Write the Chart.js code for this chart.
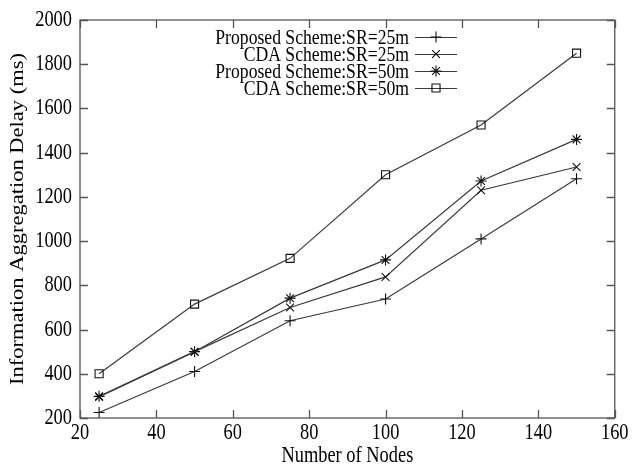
<!DOCTYPE html>
<html>
<head>
<meta charset="utf-8">
<script src="https://cdn.jsdelivr.net/npm/chart.js@4/dist/chart.umd.min.js"></script>
<style>
  html, body { margin: 0; padding: 0; background: #fff; }
  canvas { display: block; }
</style>
</head>
<body>
<canvas id="delay_chart" width="635" height="467"></canvas>
<script>
// values
var nodes = [25, 50, 75, 100, 125, 150];
var proposed25 = [225, 410, 640, 738, 1010, 1282];
var cda25 = [295, 500, 700, 838, 1230, 1335];
var proposed50 = [298, 500, 742, 915, 1272, 1460];
var cda50 = [400, 715, 922, 1300, 1525, 1850];

var seriesNames = [
  "Proposed Scheme:SR=25m",
  "CDA Scheme:SR=25m",
  "Proposed Scheme:SR=50m",
  "CDA Scheme:SR=50m",
];
var seriesValues = [proposed25, cda25, proposed50, cda50];
var markers = ["cross", "crossRot", "star", "rect"];

var lineColor = "#3a3a3a";
var serif = "'Liberation Serif', 'Times New Roman', serif";

// the original figure has tall, narrow lettering; squeeze text sideways
var canvasElement = document.getElementById("delay_chart");
var ctx0 = canvasElement.getContext("2d");
var squeeze = 0.8;
var baseFill = CanvasRenderingContext2D.prototype.fillText;
ctx0.fillText = function (text, x, y, maxWidth) {
  var m = ctx0.getTransform();
  var p = m.transformPoint(new DOMPoint(x, y));
  ctx0.save();
  ctx0.setTransform(
    new DOMMatrix().translate(p.x, p.y).scale(squeeze, 1).translate(-p.x, -p.y).multiply(m)
  );
  if (maxWidth === undefined) {
    baseFill.call(ctx0, text, x, y);
  } else {
    baseFill.call(ctx0, text, x, y, maxWidth);
  }
  ctx0.restore();
};

function toPoints(vals) {
  return nodes.map(function (n, i) {
    return { x: n, y: vals[i] };
  });
}

var datasets = seriesNames.map(function (name, i) {
  return {
    label: name,
    data: toPoints(seriesValues[i]),
    borderColor: lineColor,
    borderWidth: 1.2,
    pointStyle: markers[i],
    pointRadius: markers[i] == "rect" ? 5.7 : 5.5,
    pointBorderColor: "#111",
    pointBackgroundColor: "rgba(0,0,0,0)",
    pointBorderWidth: 1.1,
    fill: false,
    tension: 0,
  };
});

// gnuplot style frame: box with inward ticks on all four sides
var framePlugin = {
  id: "frame",
  afterDraw: function (chart) {
    var ctx = chart.ctx;
    var a = chart.chartArea;
    var xs = chart.scales.x;
    var ys = chart.scales.y;
    ctx.save();
    ctx.strokeStyle = "#555";
    ctx.lineWidth = 1.3;
    ctx.strokeRect(a.left, a.top, a.right - a.left, a.bottom - a.top);
    ctx.beginPath();
    xs.ticks.forEach(function (t) {
      var px = Math.round(xs.getPixelForValue(t.value)) + 0.5;
      ctx.moveTo(px, a.bottom);
      ctx.lineTo(px, a.bottom - 8);
      ctx.moveTo(px, a.top);
      ctx.lineTo(px, a.top + 8);
    });
    ys.ticks.forEach(function (t) {
      var py = Math.round(ys.getPixelForValue(t.value)) + 0.5;
      ctx.moveTo(a.left, py);
      ctx.lineTo(a.left + 8, py);
      ctx.moveTo(a.right, py);
      ctx.lineTo(a.right - 8, py);
    });
    ctx.stroke();
    ctx.restore();
  },
};

// key at the top, text right aligned, sample line on the right
var keyPlugin = {
  id: "key",
  afterDatasetsDraw: function (chart) {
    var ctx = chart.ctx;
    ctx.save();
    squeeze = 0.84;
    ctx.font = "21px " + serif;
    ctx.textAlign = "right";
    ctx.textBaseline = "middle";
    chart.data.datasets.forEach(function (ds, i) {
      var y = 37 + i * 17;
      ctx.fillStyle = "#000";
      ctx.fillText(ds.label, 409, y + 1);
      ctx.strokeStyle = lineColor;
      ctx.lineWidth = 1.2;
      ctx.beginPath();
      ctx.moveTo(415, y + 0.5);
      ctx.lineTo(457, y + 0.5);
      ctx.stroke();
      ctx.strokeStyle = "#111";
      ctx.fillStyle = "rgba(0,0,0,0)";
      ctx.lineWidth = 1.1;
      Chart.helpers.drawPoint(ctx, {
        pointStyle: ds.pointStyle,
        radius: ds.pointRadius,
        borderWidth: 1.1,
        rotation: 0,
      }, 436, y);
    });
    squeeze = 0.8;
    ctx.restore();
  },
};

var tickFont = { family: serif, size: 23, lineHeight: 1 };

var config = {
  type: "line",
  data: { datasets: datasets },
  options: {
    responsive: false,
    animation: false,
    layout: { padding: { top: 20, right: 16, left: 0, bottom: 0 } },
    plugins: {
      legend: { display: false },
      tooltip: { enabled: false },
    },
    scales: {
      x: {
        type: "linear",
        min: 20,
        max: 160,
        grid: { display: false, drawTicks: false },
        border: { display: false },
        ticks: {
          stepSize: 20,
          color: "#000",
          padding: 3,
          maxRotation: 0,
          autoSkip: false,
          font: tickFont,
          callback: function (v) { return String(v); },
        },
        title: {
          display: true,
          text: "Number of Nodes",
          color: "#000",
          padding: { top: 0, bottom: 0 },
          font: tickFont,
        },
        afterFit: function (scale) {
          scale.height = 49;
        },
      },
      y: {
        min: 200,
        max: 2000,
        grid: { display: false, drawTicks: false },
        border: { display: false },
        ticks: {
          stepSize: 200,
          color: "#000",
          padding: 8,
          autoSkip: false,
          font: tickFont,
          callback: function (v) { return String(v); },
        },
        title: {
          display: true,
          text: "Information Aggregation Delay (ms)",
          color: "#000",
          padding: { top: 7, bottom: 0 },
          font: { family: serif, size: 22.5, lineHeight: 1 },
        },
        afterFit: function (scale) {
          scale.width = 80;
        },
      },
    },
  },
  plugins: [framePlugin, keyPlugin],
};

var delay_chart = new Chart(canvasElement, config);
</script>
</body>
</html>
